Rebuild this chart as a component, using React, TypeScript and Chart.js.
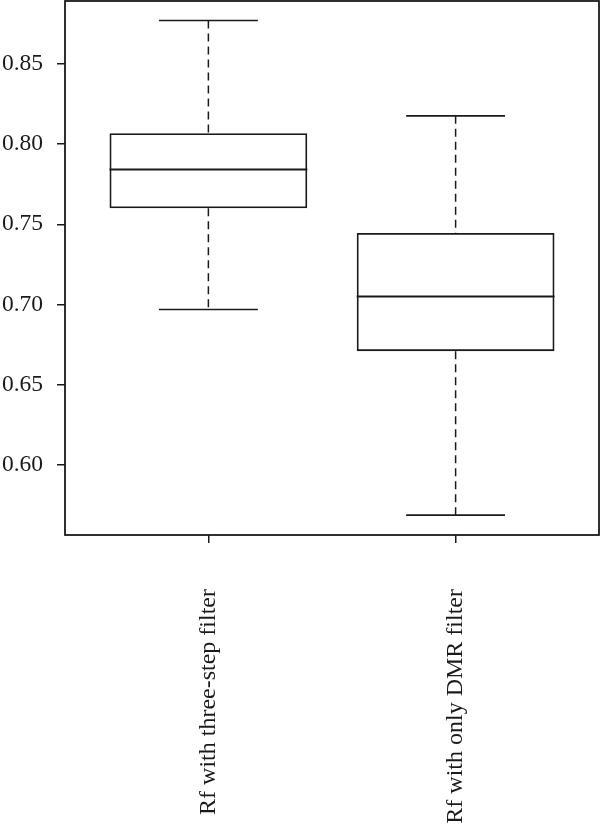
import React, { useEffect, useRef } from "react";
import { Chart, registerables } from "chart.js";

Chart.register(...registerables);

const categories = ["Rf with three-step filter", "Rf with only DMR filter"];
const positions = [1, 2];
const whiskerLow = [0.6968, 0.5684];
const q1 = [0.76, 0.6708];
const median = [0.7842, 0.7049];
const q3 = [0.8069, 0.7446];
const whiskerHigh = [0.8772, 0.8177];
const yTicks = [0.6, 0.65, 0.7, 0.75, 0.8, 0.85];
const yMin = 0.556;
const yMax = 0.8894;
const xMin = 0.42;
const xMax = 2.58;

const INK = "#1a1a1a";
const FONT = "'Liberation Serif', 'Times New Roman', serif";

const boxPlugin = {
  id: "boxParts",
  afterDatasetsDraw(chart: any) {
    const { ctx, scales, chartArea } = chart;
    const x = scales.x;
    const y = scales.y;
    const meta = chart.getDatasetMeta(0);
    ctx.save();
    ctx.strokeStyle = INK;
    positions.forEach((p, i) => {
      const bar = meta.data[i];
      const cx = x.getPixelForValue(p);
      const half = bar ? bar.width / 2 : 0;
      // median
      ctx.setLineDash([]);
      ctx.lineWidth = 1.8;
      ctx.beginPath();
      ctx.moveTo(cx - half, y.getPixelForValue(median[i]));
      ctx.lineTo(cx + half, y.getPixelForValue(median[i]));
      ctx.stroke();
      // caps
      const capL = x.getPixelForValue(p - 0.2);
      const capR = x.getPixelForValue(p + 0.2);
      ctx.lineWidth = 1.6;
      [whiskerLow[i], whiskerHigh[i]].forEach((v) => {
        const py = y.getPixelForValue(v);
        ctx.beginPath();
        ctx.moveTo(capL, py);
        ctx.lineTo(capR, py);
        ctx.stroke();
      });
      // dashed whiskers
      ctx.setLineDash([8, 5]);
      ctx.lineWidth = 1.5;
      ctx.beginPath();
      ctx.moveTo(cx, y.getPixelForValue(whiskerHigh[i]));
      ctx.lineTo(cx, y.getPixelForValue(q3[i]));
      ctx.stroke();
      ctx.beginPath();
      ctx.moveTo(cx, y.getPixelForValue(q1[i]));
      ctx.lineTo(cx, y.getPixelForValue(whiskerLow[i]));
      ctx.stroke();
    });
    // frame
    ctx.setLineDash([]);
    ctx.lineWidth = 1.8;
    ctx.strokeRect(
      chartArea.left,
      chartArea.top,
      chartArea.right - chartArea.left,
      chartArea.bottom - chartArea.top
    );
    ctx.restore();
  },
};

export default function App() {
  const canvasRef = useRef<HTMLCanvasElement | null>(null);

  useEffect(() => {
    if (!canvasRef.current) return;
    const chart = new Chart(canvasRef.current, {
      type: "bar",
      data: {
        datasets: [
          {
            data: positions.map((p, i) => ({ x: p, y: [q1[i], q3[i]] })) as any,
            backgroundColor: "rgba(255,255,255,0)",
            borderColor: INK,
            borderWidth: 1.8,
            borderSkipped: false,
            barPercentage: 0.8,
            categoryPercentage: 1,
          },
        ],
      },
      options: {
        animation: false,
        responsive: true,
        maintainAspectRatio: false,
        layout: { padding: { top: 1, right: 1, left: 0, bottom: 0 } },
        plugins: {
          legend: { display: false },
          tooltip: { enabled: false },
        },
        scales: {
          x: {
            type: "linear",
            min: xMin,
            max: xMax,
            offset: false,
            grid: {
              offset: false,
              drawOnChartArea: false,
              drawTicks: true,
              tickLength: 8,
              tickColor: INK,
              lineWidth: 1.5,
            },
            border: { display: false },
            afterBuildTicks: (scale: any) => {
              scale.ticks = positions.map((v) => ({ value: v }));
            },
            afterFit: (scale: any) => {
              scale.height = 300;
              scale.paddingLeft = 0;
              scale.paddingRight = 0;
            },
            ticks: {
              autoSkip: false,
              minRotation: 90,
              maxRotation: 90,
              padding: 46,
              color: INK,
              font: { family: FONT, size: 24 },
              callback: (v: any) => {
                const idx = positions.indexOf(Number(v));
                return idx >= 0 ? categories[idx] : "";
              },
            },
          },
          y: {
            type: "linear",
            min: yMin,
            max: yMax,
            grid: {
              drawOnChartArea: false,
              drawTicks: true,
              tickLength: 8,
              tickColor: INK,
              lineWidth: 1.5,
            },
            border: { display: false },
            afterBuildTicks: (scale: any) => {
              scale.ticks = yTicks.map((v) => ({ value: v }));
            },
            afterFit: (scale: any) => {
              scale.width = 65;
              scale.paddingTop = 0;
              scale.paddingBottom = 0;
            },
            ticks: {
              padding: 14,
              color: INK,
              font: { family: FONT, size: 23.5 },
              callback: (v: any) => Number(v).toFixed(2),
            },
          },
        },
      },
      plugins: [boxPlugin],
    });
    return () => chart.destroy();
  }, []);

  return (
    <div
      style={{
        position: "absolute",
        left: 0,
        top: 0,
        width: 600,
        height: 835,
        background: "#fff",
      }}
    >
      <canvas ref={canvasRef} />
    </div>
  );
}
